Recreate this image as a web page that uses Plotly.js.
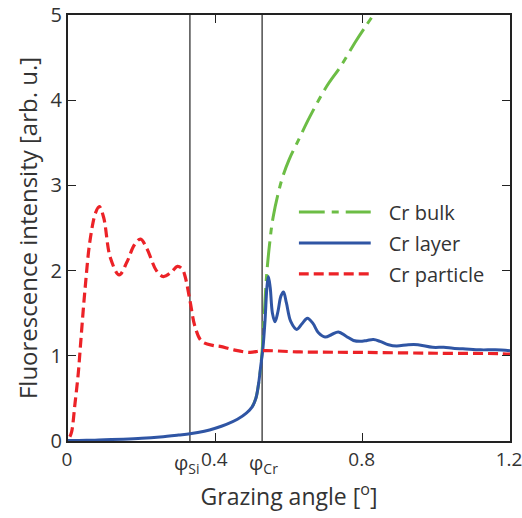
<!DOCTYPE html>
<html>
<head>
<meta charset="utf-8">
<script src="https://cdn.plot.ly/plotly-3.0.1.min.js"></script>
<style>html,body{margin:0;padding:0;background:#fff;}#chart{width:522px;height:518px;}</style>
</head>
<body>
<div id="chart"></div>
<script>
// Cr bulk
const bulkX = [0.50, 0.51, 0.52, 0.527, 0.533, 0.539, 0.547, 0.557, 0.58, 0.60, 0.621, 0.657, 0.702, 0.739, 0.784, 0.829];
const bulkY = [0.40, 0.50, 0.75, 1.05, 1.50, 1.93, 2.30, 2.63, 3.06, 3.30, 3.49, 3.81, 4.16, 4.39, 4.71, 5.00];
// Cr layer
const layerX = [0, 0.05, 0.10, 0.15, 0.20, 0.25, 0.30, 0.331, 0.37, 0.40, 0.43, 0.46, 0.485, 0.50, 0.51, 0.517, 0.523, 0.529, 0.535, 0.540, 0.544, 0.549, 0.555, 0.562, 0.570, 0.578, 0.585, 0.593, 0.605, 0.621, 0.636, 0.650, 0.665, 0.680, 0.698, 0.716, 0.734, 0.755, 0.775, 0.793, 0.812, 0.829, 0.847, 0.870, 0.892, 0.924, 0.950, 0.990, 1.020, 1.045, 1.080, 1.120, 1.160, 1.20];
const layerY = [0.005, 0.008, 0.015, 0.022, 0.032, 0.048, 0.070, 0.085, 0.115, 0.150, 0.195, 0.255, 0.330, 0.400, 0.500, 0.660, 0.870, 1.080, 1.420, 1.800, 1.930, 1.800, 1.500, 1.400, 1.520, 1.700, 1.750, 1.620, 1.400, 1.310, 1.380, 1.440, 1.380, 1.270, 1.220, 1.250, 1.280, 1.230, 1.180, 1.170, 1.180, 1.190, 1.170, 1.130, 1.115, 1.130, 1.130, 1.100, 1.100, 1.090, 1.080, 1.070, 1.070, 1.060];
// Cr particle
const partX = [0.005, 0.010, 0.019, 0.028, 0.034, 0.046, 0.060, 0.075, 0.085, 0.097, 0.115, 0.139, 0.160, 0.180, 0.197, 0.215, 0.240, 0.259, 0.280, 0.297, 0.310, 0.318, 0.331, 0.345, 0.363, 0.395, 0.413, 0.450, 0.494, 0.527, 0.630, 0.800, 1.000, 1.170, 1.20];
const partY = [0.05, 0.11, 0.44, 0.80, 1.13, 1.77, 2.36, 2.68, 2.75, 2.62, 2.15, 1.95, 2.10, 2.30, 2.37, 2.25, 2.00, 1.93, 1.98, 2.05, 2.02, 1.93, 1.65, 1.34, 1.17, 1.12, 1.11, 1.07, 1.04, 1.06, 1.045, 1.04, 1.03, 1.025, 1.02];
// reference angles
const phiX = [0.331, 0.527];
const phiLabels = ['φ<sub>Si</sub>', 'φ<sub>Cr</sub>'];
const phiShift = [-3, 1];
const xTicks = [0, 0.4, 0.8, 1.2];
const xTickText = ['0', '0.4', '0.8', '1.2'];
const yTicks = [0, 1, 2, 3, 4, 5];

const font = 'Open Sans, sans-serif';
const txt = '#333333';

const traces = [
  {x: bulkX, y: bulkY, name: 'Cr bulk', legendgroup: 'a', mode: 'lines', line: {color: '#6cbd45', width: 3, dash: '26px,7px,7px,7px', shape: 'spline'}},
  {x: layerX, y: layerY, name: 'Cr layer', legendgroup: 'b', mode: 'lines', line: {color: '#2f55a4', width: 3, shape: 'spline'}},
  {x: partX, y: partY, name: 'Cr particle', legendgroup: 'c', mode: 'lines', line: {color: '#ec2227', width: 3.2, dash: '10px,5px', shape: 'spline'}}
];

const shapes = phiX.map(v => ({type: 'line', xref: 'x', yref: 'paper', x0: v, x1: v, y0: 0, y1: 1, line: {color: '#222', width: 1.2}, layer: 'below'}));
const annotations = phiX.map((v, i) => ({x: v, xref: 'x', y: 0, yref: 'paper', yanchor: 'top', xanchor: 'center', yshift: -6, xshift: phiShift[i], showarrow: false, text: phiLabels[i], font: {family: font, size: 20, color: txt}}));

const layout = {
  width: 522, height: 518,
  margin: {l: 68, r: 12, t: 15, b: 77},
  paper_bgcolor: '#fff', plot_bgcolor: '#fff',
  font: {family: font, color: txt, size: 20},
  showlegend: true,
  legend: {x: 0.522, y: 0.465, xanchor: 'left', yanchor: 'middle', bgcolor: 'rgba(0,0,0,0)', font: {family: font, size: 20, color: txt}, itemwidth: 80, traceorder: 'grouped', tracegroupgap: 2},
  xaxis: {range: [0, 1.2], tickvals: xTicks, ticktext: xTickText, ticks: 'inside', ticklen: 8, tickcolor: '#222', showgrid: false, zeroline: false, showline: true, linecolor: '#222', linewidth: 2, mirror: 'ticks', ticklabeloverflow: 'allow', ticklabelshift: -1, tickfont: {family: font, size: 19, color: txt}, title: {text: 'Grazing angle [<sup>o</sup>]', font: {family: font, size: 23, color: txt}, standoff: 18}},
  yaxis: {range: [0, 5], tickvals: yTicks, ticks: 'inside', ticklen: 8, tickcolor: '#222', showgrid: false, zeroline: false, showline: true, linecolor: '#222', linewidth: 2, mirror: 'ticks', tickfont: {family: font, size: 20, color: txt}, title: {text: '\u00a0\u00a0\u00a0\u00a0Fluorescence intensity [arb. u.]', font: {family: font, size: 24, color: txt}, standoff: 6}},
  shapes: shapes,
  annotations: annotations
};

Plotly.newPlot('chart', traces, layout, {displayModeBar: false, staticPlot: true}).then(gd => {
  // lengthen legend line samples
  gd.querySelectorAll('.legend .legendlines path').forEach(p => p.setAttribute('d', 'M0,0h72'));
});
</script>
</body>
</html>
